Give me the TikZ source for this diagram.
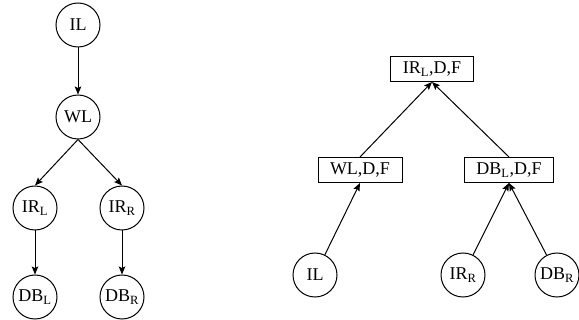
\documentclass[tikz,border=0pt]{standalone}
\usepackage{fontspec}
\setmainfont{Liberation Serif}
\usetikzlibrary{arrows.meta}
\begin{document}
\begin{tikzpicture}[x=1pt,y=-1pt,
  every node/.style={font=\fontsize{18}{21}\selectfont},
  circ/.style={draw,circle,minimum size=44pt,inner sep=1pt,line width=1pt},
  rbox/.style={draw,rectangle,minimum height=25pt,inner xsep=12pt,inner ysep=2pt,line width=1pt},
  edge/.style={line width=1pt,-{Stealth[length=8pt,width=6.5pt,inset=1.5pt]}}]
\useasboundingbox (0,0) rectangle (579,320);
% left tree
\node[circ] (il) at (78,25) {IL};
\node[circ] (wl) at (78,117) {WL};
\node[circ] (irl) at (35,208) {IR\textsubscript{L}};
\node[circ] (irr) at (122,208) {IR\textsubscript{R}};
\node[circ] (dbl) at (35,297) {DB\textsubscript{L}};
\node[circ] (dbr) at (122,297) {DB\textsubscript{R}};
\draw[edge] (il) -- (wl);
\draw[edge] (wl.south) -- (irl.north);
\draw[edge] (wl.south) -- (irr.north);
\draw[edge] (irl) -- (dbl);
\draw[edge] (irr) -- (dbr);
% right tree
\node[rbox] (top) at (432,69) {IR\textsubscript{L},D,F};
\node[rbox] (wdf) at (360,170) {WL,D,F};
\node[rbox] (ddf) at (509,170) {DB\textsubscript{L},D,F};
\node[circ] (il2) at (315,275) {IL};
\node[circ] (irr2) at (463,275) {IR\textsubscript{R}};
\node[circ] (dbr2) at (557,275) {DB\textsubscript{R}};
\draw[edge] (wdf.north) -- (top.south);
\draw[edge] (ddf.north) -- (top.south);
\draw[edge] (il2) -- (wdf.south);
\draw[edge] (irr2) -- (ddf.south);
\draw[edge] (dbr2) -- (ddf.south);
\end{tikzpicture}
\end{document}
